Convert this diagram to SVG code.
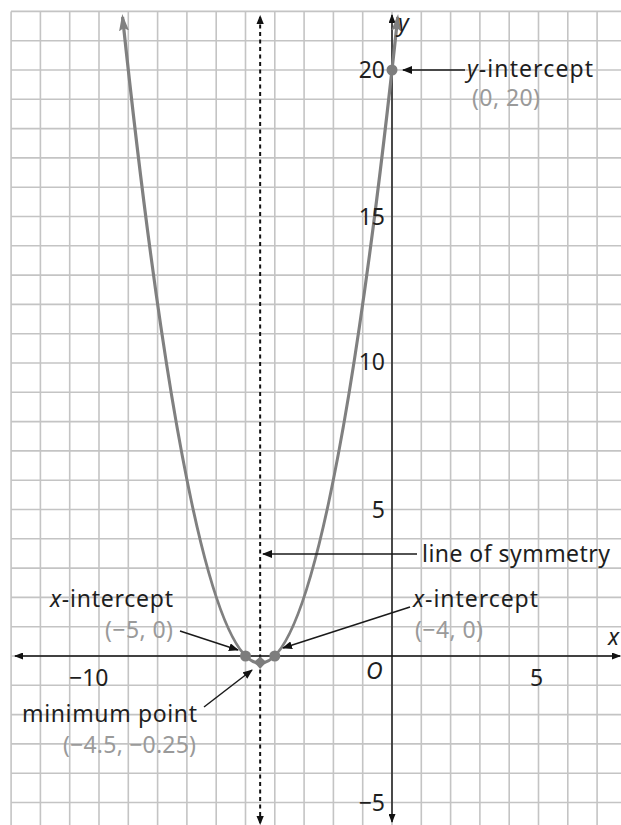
<svg xmlns="http://www.w3.org/2000/svg" width="621" height="825" viewBox="0 0 621 825">
<style>
.grid line{stroke:#c4c4c4;stroke-width:1.6}
.t{font-family:"Noto Sans","Open Sans","Liberation Sans",sans-serif;font-size:23px;fill:#1e1e1e}
.g{fill:#9a9a9a}
.it{font-style:italic}
.ann{stroke:#1a1a1a;stroke-width:1.5;fill:none}
.axis{stroke:#111;stroke-width:1.4;fill:none}
.dot{fill:#7d7d7d}
</style>
<defs>
<marker id="ah" markerUnits="userSpaceOnUse" viewBox="0 0 10 8" refX="9" refY="4" markerWidth="10" markerHeight="8" orient="auto-start-reverse"><path d="M0,0 L10,4 L0,8 z" fill="#111"/></marker>
<marker id="axah" markerUnits="userSpaceOnUse" viewBox="0 0 9 7" refX="8" refY="3.5" markerWidth="9" markerHeight="7" orient="auto-start-reverse"><path d="M0,0 L9,3.5 L0,7 z" fill="#111"/></marker>
<marker id="pah" markerUnits="userSpaceOnUse" viewBox="0 0 17 10" refX="14" refY="5" markerWidth="17" markerHeight="10" orient="auto-start-reverse"><path d="M0,0 L17,5 L0,10 L3,5 z" fill="#808080"/></marker>
</defs>
<rect width="621" height="825" fill="#fff"/>
<g id="grid" class="grid">
<line x1="11" y1="11.4" x2="621" y2="11.4"/><line x1="11" y1="40.7" x2="621" y2="40.7"/><line x1="11" y1="70" x2="621" y2="70"/><line x1="11" y1="99.3" x2="621" y2="99.3"/><line x1="11" y1="128.6" x2="621" y2="128.6"/><line x1="11" y1="157.9" x2="621" y2="157.9"/><line x1="11" y1="187.2" x2="621" y2="187.2"/><line x1="11" y1="216.5" x2="621" y2="216.5"/><line x1="11" y1="245.8" x2="621" y2="245.8"/><line x1="11" y1="275.1" x2="621" y2="275.1"/><line x1="11" y1="304.4" x2="621" y2="304.4"/><line x1="11" y1="333.7" x2="621" y2="333.7"/><line x1="11" y1="363" x2="621" y2="363"/><line x1="11" y1="392.3" x2="621" y2="392.3"/><line x1="11" y1="421.6" x2="621" y2="421.6"/><line x1="11" y1="450.9" x2="621" y2="450.9"/><line x1="11" y1="480.2" x2="621" y2="480.2"/><line x1="11" y1="509.5" x2="621" y2="509.5"/><line x1="11" y1="538.8" x2="621" y2="538.8"/><line x1="11" y1="568.1" x2="621" y2="568.1"/><line x1="11" y1="597.4" x2="621" y2="597.4"/><line x1="11" y1="626.7" x2="621" y2="626.7"/><line x1="11" y1="656" x2="621" y2="656"/><line x1="11" y1="685.3" x2="621" y2="685.3"/><line x1="11" y1="714.6" x2="621" y2="714.6"/><line x1="11" y1="743.9" x2="621" y2="743.9"/><line x1="11" y1="773.2" x2="621" y2="773.2"/><line x1="11" y1="802.5" x2="621" y2="802.5"/>
<line x1="11.1" y1="11.4" x2="11.1" y2="825"/><line x1="40.4" y1="11.4" x2="40.4" y2="825"/><line x1="69.7" y1="11.4" x2="69.7" y2="825"/><line x1="99" y1="11.4" x2="99" y2="825"/><line x1="128.3" y1="11.4" x2="128.3" y2="825"/><line x1="157.6" y1="11.4" x2="157.6" y2="825"/><line x1="186.9" y1="11.4" x2="186.9" y2="825"/><line x1="216.2" y1="11.4" x2="216.2" y2="825"/><line x1="245.5" y1="11.4" x2="245.5" y2="825"/><line x1="274.8" y1="11.4" x2="274.8" y2="825"/><line x1="304.1" y1="11.4" x2="304.1" y2="825"/><line x1="333.4" y1="11.4" x2="333.4" y2="825"/><line x1="362.7" y1="11.4" x2="362.7" y2="825"/><line x1="392" y1="11.4" x2="392" y2="825"/><line x1="421.3" y1="11.4" x2="421.3" y2="825"/><line x1="450.6" y1="11.4" x2="450.6" y2="825"/><line x1="479.9" y1="11.4" x2="479.9" y2="825"/><line x1="509.2" y1="11.4" x2="509.2" y2="825"/><line x1="538.5" y1="11.4" x2="538.5" y2="825"/><line x1="567.8" y1="11.4" x2="567.8" y2="825"/><line x1="597.1" y1="11.4" x2="597.1" y2="825"/>
</g>
<g id="axes">
<line class="axis" x1="15" y1="656" x2="620" y2="656" marker-start="url(#axah)" marker-end="url(#axah)"/>
<line class="axis" x1="392" y1="822" x2="392" y2="15" marker-start="url(#axah)" marker-end="url(#axah)"/>
</g>
<g id="symmetry-line">
<line x1="260.15" y1="17" x2="260.15" y2="823" stroke="#111" stroke-width="2" stroke-dasharray="4 3.5"/>
<path d="M256.5,24 L260.15,15 L263.8,24 z M256.5,816 L260.15,825 L263.8,816 z" fill="#111"/>
</g>
<g id="parabola">
<path d="M122.54,17 Q260.15,1309.6 397.76,17" fill="none" stroke="#808080" stroke-width="3.2" marker-start="url(#pah)" marker-end="url(#pah)"/>
</g>
<g id="points">
<circle class="dot" cx="245.5" cy="656" r="5.5"/>
<circle class="dot" cx="274.8" cy="656" r="5.5"/>
<path class="dot" d="M260.15,669 L254,662 L260.15,656.5 L266.3,662 z"/>
<circle class="dot" cx="392" cy="70" r="5.5"/>
</g>
<g id="connectors">
<line class="ann" x1="465" y1="70" x2="403" y2="70" marker-end="url(#ah)"/>
<line class="ann" x1="417" y1="554" x2="263" y2="554" marker-end="url(#ah)"/>
<line class="ann" x1="180" y1="631" x2="238" y2="650" marker-end="url(#ah)"/>
<line class="ann" x1="410" y1="607" x2="283" y2="648" marker-end="url(#ah)"/>
<line class="ann" x1="204" y1="707" x2="252" y2="670" marker-end="url(#ah)"/>
</g>
<g id="axis-labels" class="t">
<text x="398" y="31" class="it">y</text>
<text x="608" y="645" class="it">x</text>
<text x="385" y="78" text-anchor="end">20</text>
<text x="385" y="225" text-anchor="end">15</text>
<text x="385" y="370" text-anchor="end">10</text>
<text x="385" y="518" text-anchor="end">5</text>
<text x="385" y="811" text-anchor="end">−5</text>
<text x="366" y="679" class="it">O</text>
<text x="530" y="686">5</text>
<text x="69" y="686">−10</text>
</g>
<g id="label-y-intercept" class="t">
<text x="467" y="77" textLength="126" lengthAdjust="spacing"><tspan class="it">y</tspan>-intercept</text>
<text x="472" y="106" class="g" textLength="68" lengthAdjust="spacing">(0, 20)</text>
</g>
<g id="label-symmetry" class="t">
<text x="422" y="562" textLength="188" lengthAdjust="spacing">line of symmetry</text>
</g>
<g id="label-x-intercept-left" class="t">
<text x="50" y="607" textLength="123" lengthAdjust="spacing"><tspan class="it">x</tspan>-intercept</text>
<text x="105" y="638" class="g" textLength="68" lengthAdjust="spacing">(−5, 0)</text>
</g>
<g id="label-x-intercept-right" class="t">
<text x="413" y="607" textLength="125" lengthAdjust="spacing"><tspan class="it">x</tspan>-intercept</text>
<text x="415" y="638" class="g" textLength="68" lengthAdjust="spacing">(−4, 0)</text>
</g>
<g id="label-minimum" class="t">
<text x="22" y="722" textLength="175" lengthAdjust="spacing">minimum point</text>
<text x="63" y="753" class="g" textLength="133" lengthAdjust="spacing">(−4.5, −0.25)</text>
</g>
</svg>
